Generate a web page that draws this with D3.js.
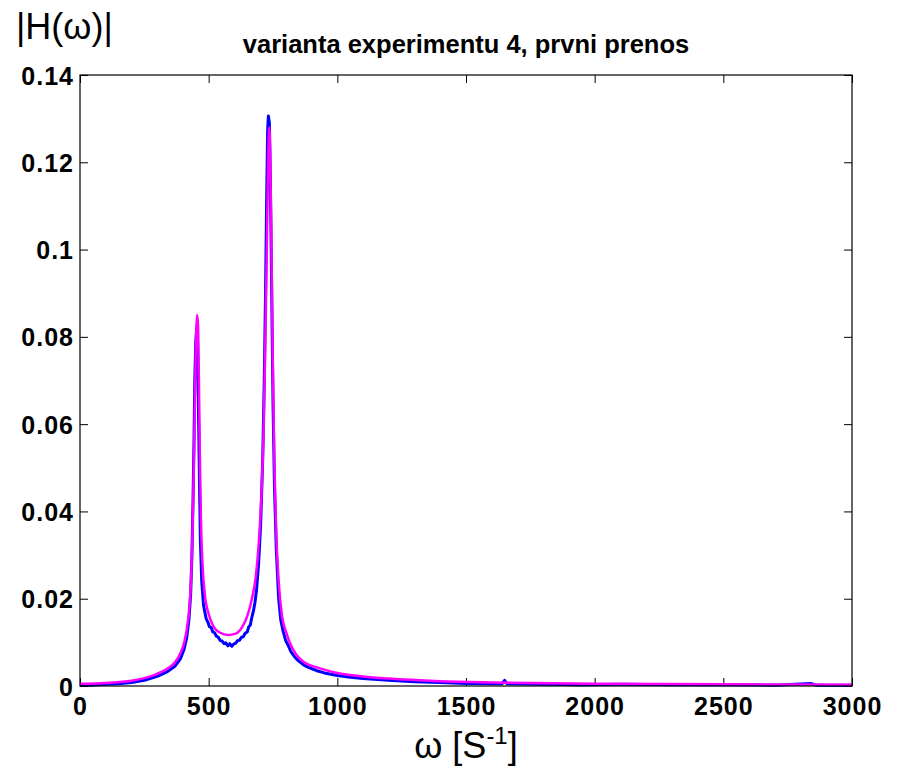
<!DOCTYPE html>
<html>
<head>
<meta charset="utf-8">
<script src="https://cdn.jsdelivr.net/npm/d3@7"></script>
<style>
  body { margin: 0; background: #fff; }
  svg { display: block; font-family: "Liberation Sans", Arial, sans-serif; }
  .tick text { font-weight: bold; font-size: 25px; letter-spacing: 1px; fill: #000; }
  .domain { display: none; }
  .tick line { stroke: #000; stroke-width: 1; }
</style>
</head>
<body>
<svg id="chart" width="898" height="772"></svg>
<script>
  var measured = [
    [0, 0.0003], [50, 0.0002], [100, 0.0004], [150, 0.0005], [200, 0.0008], [250, 0.0013],
    [300, 0.0022], [340, 0.0033], [370, 0.0046], [390, 0.0062], [405, 0.0085], [415, 0.0112],
    [423, 0.0150], [430, 0.0210], [435, 0.0300], [439, 0.0420], [443, 0.0560], [446, 0.0700],
    [450, 0.0790], [454, 0.0824], [457, 0.0790], [460, 0.0650], [464, 0.0480], [468, 0.0330],
    [473, 0.0240], [480, 0.0185], [490, 0.0155], [497, 0.0146], [503, 0.0136], [510, 0.0134],
    [516, 0.0124], [523, 0.0122], [530, 0.0114], [537, 0.0112], [545, 0.0104], [552, 0.0103],
    [560, 0.0097], [567, 0.0099], [575, 0.0092], [582, 0.0097], [590, 0.0091], [597, 0.0096],
    [605, 0.0098], [612, 0.0104], [620, 0.0105], [628, 0.0112], [635, 0.0113], [642, 0.0121],
    [650, 0.0124], [656, 0.0136], [662, 0.0140], [668, 0.0158], [674, 0.0172], [680, 0.0192],
    [686, 0.0220], [694, 0.0280], [702, 0.0370], [710, 0.0520], [716, 0.0700], [721, 0.0900],
    [725, 0.1100], [729, 0.1270], [732, 0.1306], [736, 0.1290], [740, 0.1150], [745, 0.0900],
    [750, 0.0650], [756, 0.0450], [763, 0.0310], [772, 0.0200], [780, 0.0152], [790, 0.0124],
    [800, 0.0103], [810, 0.0092], [820, 0.0078], [835, 0.0066], [850, 0.0057], [870, 0.0048],
    [890, 0.0042], [920, 0.0035], [950, 0.0030], [1000, 0.0024], [1050, 0.0020], [1100, 0.0017],
    [1200, 0.0013], [1300, 0.0010], [1400, 0.0008], [1500, 0.0006], [1600, 0.0005], [1640, 0.0005],
    [1650, 0.0013], [1660, 0.0005], [1800, 0.0004], [1950, 0.0003], [2100, 0.0004], [2300, 0.0003],
    [2500, 0.0003], [2700, 0.0002], [2840, 0.0006], [2860, 0.0002], [3000, 0.0002]
  ];

  var model = [
    [0, 0.0005], [100, 0.0007], [200, 0.0012], [250, 0.0018], [300, 0.0028], [340, 0.0040],
    [370, 0.0055], [390, 0.0075], [405, 0.0100], [415, 0.0130], [425, 0.0180], [432, 0.0250],
    [437, 0.0350], [441, 0.0460], [445, 0.0600], [449, 0.0740], [453, 0.0830], [456, 0.0850],
    [459, 0.0820], [462, 0.0700], [466, 0.0520], [470, 0.0380], [476, 0.0280], [485, 0.0210],
    [500, 0.0165], [520, 0.0135], [545, 0.0122], [575, 0.0117], [605, 0.0120], [630, 0.0135],
    [650, 0.0160], [668, 0.0200], [683, 0.0250], [695, 0.0330], [706, 0.0450], [714, 0.0600],
    [720, 0.0780], [726, 0.1000], [731, 0.1200], [735, 0.1280], [739, 0.1220], [744, 0.1000],
    [749, 0.0750], [755, 0.0520], [762, 0.0360], [772, 0.0240], [785, 0.0160], [800, 0.0125],
    [815, 0.0100], [840, 0.0072], [870, 0.0055], [930, 0.0041], [1000, 0.0030], [1100, 0.0022],
    [1200, 0.0017], [1400, 0.0011], [1600, 0.0008], [2000, 0.0005], [2500, 0.0004], [3000, 0.0003]
  ];

  var xTicks = [0, 500, 1000, 1500, 2000, 2500, 3000];
  var yTicks = [0, 0.02, 0.04, 0.06, 0.08, 0.1, 0.12, 0.14];
  var yTickLabels = ['0', '0.02', '0.04', '0.06', '0.08', '0.1', '0.12', '0.14'];

(function() {
  var svg = d3.select('#chart');
  var m = { left: 80, right: 852, top: 75, bottom: 686 };

  var x = d3.scaleLinear().domain([0, 3000]).range([m.left, m.right]);
  var y = d3.scaleLinear().domain([0, 0.14]).range([m.bottom, m.top]);

  // axes, MATLAB style: ticks inward on all four sides
  svg.append('g').attr('class', 'xaxis').attr('transform', 'translate(0,' + m.bottom + ')')
    .call(d3.axisBottom(x).tickValues(xTicks).tickSize(-8).tickPadding(11).tickFormat(d3.format('d')));
  svg.append('g').attr('transform', 'translate(0,' + m.top + ')')
    .call(d3.axisTop(x).tickValues(xTicks).tickSize(-8).tickFormat(''));
  svg.append('g').attr('class', 'yaxis').attr('transform', 'translate(' + m.left + ',0)')
    .call(d3.axisLeft(y).tickValues(yTicks).tickSize(-8).tickPadding(6)
      .tickFormat(function(d, i) { return yTickLabels[i]; }));
  svg.append('g').attr('transform', 'translate(' + m.right + ',0)')
    .call(d3.axisRight(y).tickValues(yTicks).tickSize(-8).tickFormat(''));

  svg.selectAll('.xaxis .tick text').attr('dy', '0.71em');
  svg.selectAll('.yaxis .tick text').attr('dy', '0.36em');

  var line = d3.line().x(function(d) { return x(d[0]); }).y(function(d) { return y(d[1]); });

  svg.append('path').datum(measured)
    .attr('d', line.curve(d3.curveLinear))
    .attr('fill', 'none').attr('stroke', '#0000ff').attr('stroke-width', 3)
    .attr('stroke-linejoin', 'round');

  svg.append('path').datum(model)
    .attr('d', line.curve(d3.curveMonotoneX))
    .attr('fill', 'none').attr('stroke', '#ff00ff').attr('stroke-width', 2.5)
    .attr('stroke-linejoin', 'round');

  // box
  svg.append('rect').attr('x', m.left).attr('y', m.top)
    .attr('width', m.right - m.left).attr('height', m.bottom - m.top)
    .attr('fill', 'none').attr('stroke', '#000').attr('stroke-width', 1.2);

  svg.append('text').attr('x', 466).attr('y', 53).attr('text-anchor', 'middle')
    .attr('font-weight', 'bold').attr('font-size', 25.5)
    .text('varianta experimentu 4, prvni prenos');

  svg.append('text').attr('x', 16).attr('y', 39)
    .attr('font-size', 36)
    .text('|H(\u03c9)|');

  var xl = svg.append('text').attr('x', 466).attr('y', 758).attr('text-anchor', 'middle')
    .attr('font-size', 36);
  xl.append('tspan').text('\u03c9 [S');
  xl.append('tspan').attr('dy', -14).attr('font-size', 24).text('-1');
  xl.append('tspan').attr('dy', 14).text(']');
})();
</script>
</body>
</html>
